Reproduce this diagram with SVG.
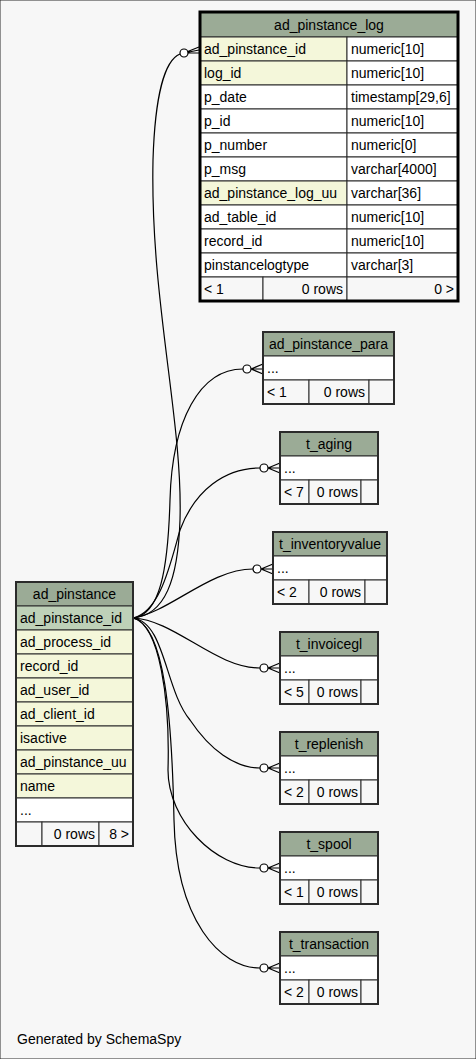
<svg xmlns="http://www.w3.org/2000/svg" width="476" height="1059" viewBox="0 0 476 1059">
<style>
text{font-family:"Liberation Sans",Arial,sans-serif;font-size:14px;fill:#000}
.m{text-anchor:middle}.e{text-anchor:end}
rect{stroke:#2b2b2b;stroke-width:1}
.hd{fill:#9bab96}.pk{fill:#bed1b8}.ix{fill:#f4f7da}.bd{fill:#fff}.ft{fill:#f7f7f7}
.fr{fill:none;stroke-width:2}.fr3{fill:none;stroke-width:3;stroke:#000}
.c path{fill:none;stroke:#000;stroke-width:1.2}
.c circle{fill:#fff;stroke:#000;stroke-width:1.2}
</style>
<rect x="0" y="0" width="476" height="1059" fill="#f7f7f7" stroke="none"/>
<g class="c" id="connectors">
<path d="M133,618 C165,615 178,580 180,520 C183,420 150,300 153,160 C155,95 165,60 180,54"/>
<path d="M184,53 L199,47 M184,53 L199,50 M184,53 L199,53"/>
<circle cx="184" cy="53" r="4"/>
<path d="M133,618 C160,615 168,570 170,500 C172,420 200,369 243,369"/>
<path d="M251,369 L263,364 M251,369 L263,369 M251,369 L263,374"/>
<circle cx="247" cy="369" r="4"/>
<path d="M133,618 C160,612 170,565 180,530 C195,490 225,468 260,468"/>
<path d="M268,468 L280,463 M268,468 L280,468 M268,468 L280,473"/>
<circle cx="264" cy="468" r="4"/>
<path d="M133,618 C170,612 210,569 253,569"/>
<path d="M261,569 L273,564 M261,569 L273,569 M261,569 L273,574"/>
<circle cx="257" cy="569" r="4"/>
<path d="M133,618 C175,620 215,668 260,668"/>
<path d="M268,668 L280,663 M268,668 L280,668 M268,668 L280,673"/>
<circle cx="264" cy="668" r="4"/>
<path d="M133,618 C165,622 165,690 190,720 C210,750 235,768 260,768"/>
<path d="M268,768 L280,763 M268,768 L280,768 M268,768 L280,773"/>
<circle cx="264" cy="768" r="4"/>
<path d="M133,618 C160,625 170,700 168,770 C168,820 215,868 260,868"/>
<path d="M268,868 L280,863 M268,868 L280,868 M268,868 L280,873"/>
<circle cx="264" cy="868" r="4"/>
<path d="M133,618 C165,625 172,720 174,820 C176,920 220,968 260,968"/>
<path d="M268,968 L280,963 M268,968 L280,968 M268,968 L280,973"/>
<circle cx="264" cy="968" r="4"/>
</g>
<g id="ad_pinstance_log">
<rect class="hd" x="200" y="12" width="258" height="25"/>
<text class="m" x="329" y="29.5">ad_pinstance_log</text>
<rect class="ix" x="200" y="37" width="147" height="24"/><rect class="bd" x="347" y="37" width="111" height="24"/>
<text x="204" y="54">ad_pinstance_id</text><text x="351" y="54">numeric[10]</text>
<rect class="ix" x="200" y="61" width="147" height="24"/><rect class="bd" x="347" y="61" width="111" height="24"/>
<text x="204" y="78">log_id</text><text x="351" y="78">numeric[10]</text>
<rect class="bd" x="200" y="85" width="147" height="24"/><rect class="bd" x="347" y="85" width="111" height="24"/>
<text x="204" y="102">p_date</text><text x="351" y="102">timestamp[29,6]</text>
<rect class="bd" x="200" y="109" width="147" height="24"/><rect class="bd" x="347" y="109" width="111" height="24"/>
<text x="204" y="126">p_id</text><text x="351" y="126">numeric[10]</text>
<rect class="bd" x="200" y="133" width="147" height="24"/><rect class="bd" x="347" y="133" width="111" height="24"/>
<text x="204" y="150">p_number</text><text x="351" y="150">numeric[0]</text>
<rect class="bd" x="200" y="157" width="147" height="24"/><rect class="bd" x="347" y="157" width="111" height="24"/>
<text x="204" y="174">p_msg</text><text x="351" y="174">varchar[4000]</text>
<rect class="ix" x="200" y="181" width="147" height="24"/><rect class="bd" x="347" y="181" width="111" height="24"/>
<text x="204" y="198">ad_pinstance_log_uu</text><text x="351" y="198">varchar[36]</text>
<rect class="bd" x="200" y="205" width="147" height="24"/><rect class="bd" x="347" y="205" width="111" height="24"/>
<text x="204" y="222">ad_table_id</text><text x="351" y="222">numeric[10]</text>
<rect class="bd" x="200" y="229" width="147" height="24"/><rect class="bd" x="347" y="229" width="111" height="24"/>
<text x="204" y="246">record_id</text><text x="351" y="246">numeric[10]</text>
<rect class="bd" x="200" y="253" width="147" height="24"/><rect class="bd" x="347" y="253" width="111" height="24"/>
<text x="204" y="270">pinstancelogtype</text><text x="351" y="270">varchar[3]</text>
<rect class="ft" x="200" y="277" width="63" height="24"/><rect class="ft" x="263" y="277" width="84" height="24"/><rect class="ft" x="347" y="277" width="111" height="24"/>
<text x="204" y="294">&lt; 1</text><text class="e" x="343" y="294">0 rows</text><text class="e" x="454" y="294">0 &gt;</text>
<rect class="fr3" x="200" y="12" width="258" height="289"/>
</g>
<g id="ad_pinstance_para">
<rect class="hd" x="263" y="332" width="131" height="24"/>
<text class="m" x="328.5" y="349">ad_pinstance_para</text>
<rect class="bd" x="263" y="356" width="131" height="24"/>
<text x="267" y="373">...</text>
<rect class="ft" x="263" y="380" width="46" height="24"/><rect class="ft" x="309" y="380" width="60" height="24"/><rect class="ft" x="369" y="380" width="25" height="24"/>
<text x="267" y="397">&lt; 1</text><text class="e" x="365" y="397">0 rows</text>
<rect class="fr" x="263" y="332" width="131" height="72"/>
</g>
<g id="t_aging">
<rect class="hd" x="280" y="432" width="98" height="24"/>
<text class="m" x="329" y="449">t_aging</text>
<rect class="bd" x="280" y="456" width="98" height="24"/>
<text x="284" y="473">...</text>
<rect class="ft" x="280" y="480" width="29" height="24"/><rect class="ft" x="309" y="480" width="52" height="24"/><rect class="ft" x="361" y="480" width="17" height="24"/>
<text x="284" y="497">&lt; 7</text><text class="e" x="358" y="497">0 rows</text>
<rect class="fr" x="280" y="432" width="98" height="72"/>
</g>
<g id="t_inventoryvalue">
<rect class="hd" x="273" y="532" width="114" height="24"/>
<text class="m" x="330" y="549">t_inventoryvalue</text>
<rect class="bd" x="273" y="556" width="114" height="24"/>
<text x="277" y="573">...</text>
<rect class="ft" x="273" y="580" width="36" height="24"/><rect class="ft" x="309" y="580" width="56" height="24"/><rect class="ft" x="365" y="580" width="22" height="24"/>
<text x="277" y="597">&lt; 2</text><text class="e" x="361" y="597">0 rows</text>
<rect class="fr" x="273" y="532" width="114" height="72"/>
</g>
<g id="t_invoicegl">
<rect class="hd" x="280" y="632" width="98" height="24"/>
<text class="m" x="329" y="649">t_invoicegl</text>
<rect class="bd" x="280" y="656" width="98" height="24"/>
<text x="284" y="673">...</text>
<rect class="ft" x="280" y="680" width="29" height="24"/><rect class="ft" x="309" y="680" width="52" height="24"/><rect class="ft" x="361" y="680" width="17" height="24"/>
<text x="284" y="697">&lt; 5</text><text class="e" x="358" y="697">0 rows</text>
<rect class="fr" x="280" y="632" width="98" height="72"/>
</g>
<g id="t_replenish">
<rect class="hd" x="280" y="732" width="98" height="24"/>
<text class="m" x="329" y="749">t_replenish</text>
<rect class="bd" x="280" y="756" width="98" height="24"/>
<text x="284" y="773">...</text>
<rect class="ft" x="280" y="780" width="29" height="24"/><rect class="ft" x="309" y="780" width="52" height="24"/><rect class="ft" x="361" y="780" width="17" height="24"/>
<text x="284" y="797">&lt; 2</text><text class="e" x="358" y="797">0 rows</text>
<rect class="fr" x="280" y="732" width="98" height="72"/>
</g>
<g id="t_spool">
<rect class="hd" x="280" y="832" width="98" height="24"/>
<text class="m" x="329" y="849">t_spool</text>
<rect class="bd" x="280" y="856" width="98" height="24"/>
<text x="284" y="873">...</text>
<rect class="ft" x="280" y="880" width="29" height="24"/><rect class="ft" x="309" y="880" width="52" height="24"/><rect class="ft" x="361" y="880" width="17" height="24"/>
<text x="284" y="897">&lt; 1</text><text class="e" x="358" y="897">0 rows</text>
<rect class="fr" x="280" y="832" width="98" height="72"/>
</g>
<g id="t_transaction">
<rect class="hd" x="280" y="932" width="98" height="24"/>
<text class="m" x="329" y="949">t_transaction</text>
<rect class="bd" x="280" y="956" width="98" height="24"/>
<text x="284" y="973">...</text>
<rect class="ft" x="280" y="980" width="29" height="24"/><rect class="ft" x="309" y="980" width="52" height="24"/><rect class="ft" x="361" y="980" width="17" height="24"/>
<text x="284" y="997">&lt; 2</text><text class="e" x="358" y="997">0 rows</text>
<rect class="fr" x="280" y="932" width="98" height="72"/>
</g>
<g id="ad_pinstance">
<rect class="hd" x="16" y="582" width="117" height="24"/>
<text class="m" x="74.5" y="599">ad_pinstance</text>
<rect class="pk" x="16" y="606" width="117" height="24"/><text x="20" y="623">ad_pinstance_id</text>
<rect class="ix" x="16" y="630" width="117" height="24"/><text x="20" y="647">ad_process_id</text>
<rect class="ix" x="16" y="654" width="117" height="24"/><text x="20" y="671">record_id</text>
<rect class="ix" x="16" y="678" width="117" height="24"/><text x="20" y="695">ad_user_id</text>
<rect class="ix" x="16" y="702" width="117" height="24"/><text x="20" y="719">ad_client_id</text>
<rect class="ix" x="16" y="726" width="117" height="24"/><text x="20" y="743">isactive</text>
<rect class="ix" x="16" y="750" width="117" height="24"/><text x="20" y="767">ad_pinstance_uu</text>
<rect class="ix" x="16" y="774" width="117" height="24"/><text x="20" y="791">name</text>
<rect class="bd" x="16" y="798" width="117" height="24"/><text x="20" y="815">...</text>
<rect class="ft" x="16" y="822" width="26" height="24"/><rect class="ft" x="42" y="822" width="57" height="24"/><rect class="ft" x="99" y="822" width="34" height="24"/>
<text class="e" x="95" y="839">0 rows</text><text class="e" x="129" y="839">8 &gt;</text>
<rect class="fr" x="16" y="582" width="117" height="264"/>
</g>
<text x="17" y="1044">Generated by SchemaSpy</text>
</svg>
